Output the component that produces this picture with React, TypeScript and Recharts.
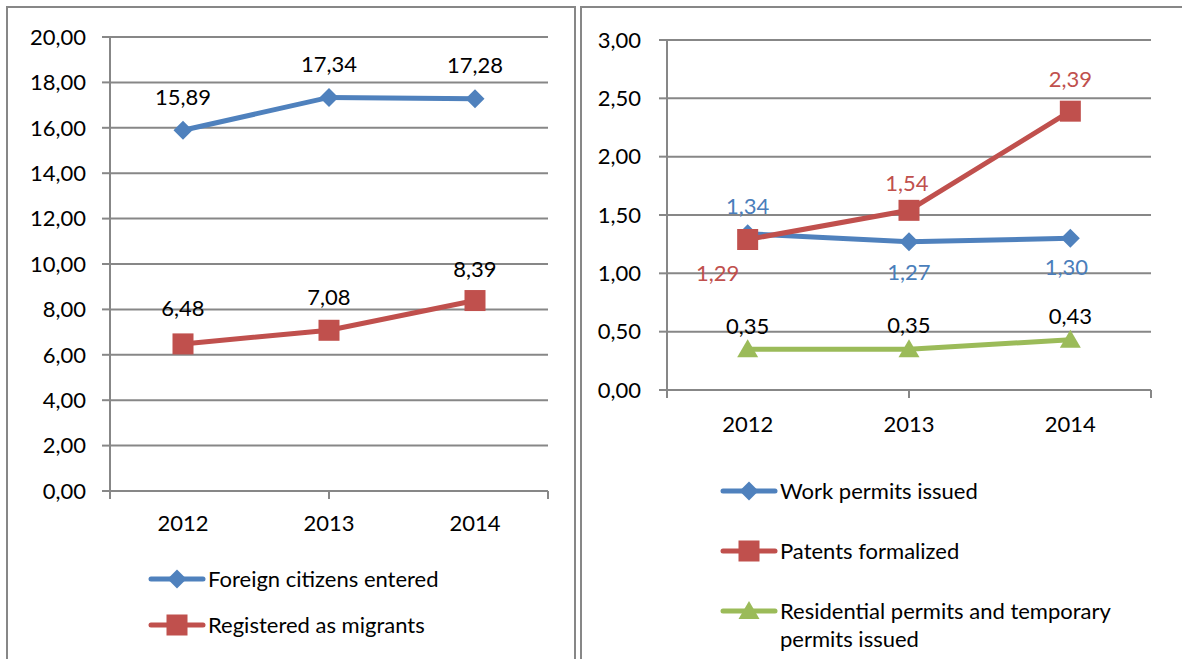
import React from "react";
import { LineChart, Line, XAxis, YAxis, CartesianGrid, Legend, LabelList } from "recharts";

const years = ["2012", "2013", "2014"];

// left panel, mln people
const foreignEntered = [15.89, 17.34, 17.28];
const registeredMigrants = [6.48, 7.08, 8.39];
const leftTicks = [0, 2, 4, 6, 8, 10, 12, 14, 16, 18, 20];

// right panel
const workPermits = [1.34, 1.27, 1.3];
const patentsFormalized = [1.29, 1.54, 2.39];
const residencePermits = [0.35, 0.35, 0.43];
const rightTicks = [0, 0.5, 1, 1.5, 2, 2.5, 3];

const BLUE = "#4F81BD";
const RED = "#C0504D";
const GREEN = "#9BBB59";
const GRID = "#878787";
const FONT = "Lato, 'Liberation Sans', sans-serif";

const leftData = years.map((year, i) => ({
  year,
  foreign: foreignEntered[i],
  registered: registeredMigrants[i],
}));

const rightData = years.map((year, i) => ({
  year,
  work: workPermits[i],
  patents: patentsFormalized[i],
  residence: residencePermits[i],
}));

const fmt = (v: number) => v.toFixed(2).replace(".", ",");

type Shape = "diamond" | "square" | "triangle";

function Marker({ shape, cx, cy, fill }: { shape: Shape; cx: number; cy: number; fill: string }) {
  if (shape === "diamond") {
    const r = 9.5;
    return <polygon points={`${cx},${cy - r} ${cx + r},${cy} ${cx},${cy + r} ${cx - r},${cy}`} fill={fill} />;
  }
  if (shape === "square") {
    const r = 10.5;
    return <rect x={cx - r} y={cy - r} width={r * 2} height={r * 2} fill={fill} />;
  }
  return <polygon points={`${cx},${cy - 10} ${cx + 10.5},${cy + 8} ${cx - 10.5},${cy + 8}`} fill={fill} />;
}

const dotFor = (shape: Shape, fill: string) => (p: any) =>
  <Marker key={`d-${p.index}`} shape={shape} cx={p.cx} cy={p.cy} fill={fill} />;

// label placement per point: [dx, dy] from the marker centre
const labelFor = (color: string, place: number[][]) => (p: any) => {
  const vb = p.viewBox || {};
  const x = p.x ?? vb.x;
  const y = p.y ?? vb.y;
  const [dx, dy] = place[p.index] || [0, -30];
  return (
    <text
      key={`l-${p.index}`}
      x={x + dx}
      y={y + dy}
      textAnchor="middle"
      dominantBaseline="central"
      fontSize={22}
      fontFamily={FONT}
      fill={color}
    >
      {fmt(p.value)}
    </text>
  );
};

const shapes: Record<string, Shape> = {
  foreign: "diamond",
  registered: "square",
  work: "diamond",
  patents: "square",
  residence: "triangle",
};
const legendOrder = ["foreign", "registered", "work", "patents", "residence"];

const legendContent = (rowHeight: number) => (props: any) => (
  <div style={{ fontFamily: FONT, fontSize: 22, color: "#000" }}>
    {(props.payload || []).map((entry: any) => (
      <div key={entry.value} style={{ display: "flex", alignItems: "flex-start", minHeight: rowHeight }}>
        <svg width={58} height={26} style={{ flexShrink: 0 }}>
          <line x1={3} x2={55} y1={13} y2={13} stroke={entry.color} strokeWidth={5} strokeLinecap="round" />
          <Marker shape={shapes[entry.dataKey]} cx={29} cy={13} fill={entry.color} />
        </svg>
        <span style={{ marginLeft: 2, lineHeight: "28px", marginTop: -1, maxWidth: 350 }}>{entry.value}</span>
      </div>
    ))}
  </div>
);

const tickStyle = { fontSize: 22, fill: "#000", fontFamily: FONT };
const lineStyle = { stroke: GRID, strokeWidth: 2 };
const blank = () => "";

export default function App() {
  return (
    <div style={{ position: "absolute", left: 0, top: 0, width: 1182, height: 659, background: "#fff", overflow: "hidden" }}>
      <div style={{ position: "absolute", left: 6, top: 6, width: 566, height: 680, border: `2px solid ${GRID}` }} />
      <div style={{ position: "absolute", left: 580, top: 6, width: 640, height: 680, border: `2px solid ${GRID}` }} />

      <LineChart
        width={566}
        height={652}
        data={leftData}
        margin={{ top: 30, right: 25, left: 0, bottom: 127 }}
        style={{ position: "absolute", left: 7, top: 7 }}
      >
        <CartesianGrid xAxisId="cat" vertical={false} stroke={GRID} strokeWidth={2} />
        {/* axis 0: category boundary tick marks, Excel style; "cat" carries the year labels */}
        <XAxis type="number" domain={[0, 3]} ticks={[0, 1, 2, 3]} tickFormatter={blank} tickSize={8} height={1} axisLine={lineStyle} tickLine={lineStyle} />
        <XAxis xAxisId="cat" dataKey="year" scale="band" axisLine={false} tickLine={false} tickSize={0} tickMargin={23} height={40} tick={tickStyle} />
        <YAxis width={103} domain={[0, 20]} ticks={leftTicks} tickFormatter={fmt} tickSize={8} tickMargin={16} axisLine={lineStyle} tickLine={lineStyle} tick={tickStyle} />
        <Line xAxisId="cat" dataKey="foreign" name="Foreign citizens entered" stroke={BLUE} strokeWidth={5} dot={dotFor("diamond", BLUE)} activeDot={false} isAnimationActive={false}>
          <LabelList dataKey="foreign" content={labelFor("#000", [[0, -34], [0, -34], [0, -34]])} />
        </Line>
        <Line xAxisId="cat" dataKey="registered" name="Registered as migrants" stroke={RED} strokeWidth={5} dot={dotFor("square", RED)} activeDot={false} isAnimationActive={false}>
          <LabelList dataKey="registered" content={labelFor("#000", [[0, -36], [0, -34], [0, -32]])} />
        </Line>
        <Legend
          layout="vertical"
          align="center"
          verticalAlign="middle"
          itemSorter={(item: any) => legendOrder.indexOf(item.dataKey)}
          content={legendContent(46)}
          wrapperStyle={{ left: 141, top: 559, width: 400 }}
        />
      </LineChart>

      <LineChart
        width={601}
        height={652}
        data={rightData}
        margin={{ top: 33, right: 31, left: 0, bottom: 228 }}
        style={{ position: "absolute", left: 581, top: 7 }}
      >
        <CartesianGrid xAxisId="cat" vertical={false} stroke={GRID} strokeWidth={2} />
        <XAxis type="number" domain={[0, 3]} ticks={[0, 1, 2, 3]} tickFormatter={blank} tickSize={8} height={1} axisLine={lineStyle} tickLine={lineStyle} />
        <XAxis xAxisId="cat" dataKey="year" scale="band" axisLine={false} tickLine={false} tickSize={0} tickMargin={25} height={40} tick={tickStyle} />
        <YAxis width={86} domain={[0, 3]} ticks={rightTicks} tickFormatter={fmt} tickSize={8} tickMargin={18} axisLine={lineStyle} tickLine={lineStyle} tick={tickStyle} />
        <Line xAxisId="cat" dataKey="work" name="Work permits issued" stroke={BLUE} strokeWidth={5} dot={dotFor("diamond", BLUE)} activeDot={false} isAnimationActive={false}>
          <LabelList dataKey="work" content={labelFor("#4A7EBB", [[0, -28], [0, 30], [-4, 28]])} />
        </Line>
        <Line xAxisId="cat" dataKey="patents" name="Patents formalized" stroke={RED} strokeWidth={5} dot={dotFor("square", RED)} activeDot={false} isAnimationActive={false}>
          <LabelList dataKey="patents" content={labelFor("#C0504D", [[-30, 33], [-2, -28], [0, -33]])} />
        </Line>
        <Line xAxisId="cat" dataKey="residence" name="Residential permits and temporary permits issued" stroke={GREEN} strokeWidth={5} dot={dotFor("triangle", GREEN)} activeDot={false} isAnimationActive={false}>
          <LabelList dataKey="residence" content={labelFor("#000", [[0, -24], [0, -25], [0, -24]])} />
        </Line>
        <Legend
          layout="vertical"
          align="center"
          verticalAlign="middle"
          itemSorter={(item: any) => legendOrder.indexOf(item.dataKey)}
          content={legendContent(60)}
          wrapperStyle={{ left: 139, top: 471, width: 440 }}
        />
      </LineChart>
    </div>
  );
}
